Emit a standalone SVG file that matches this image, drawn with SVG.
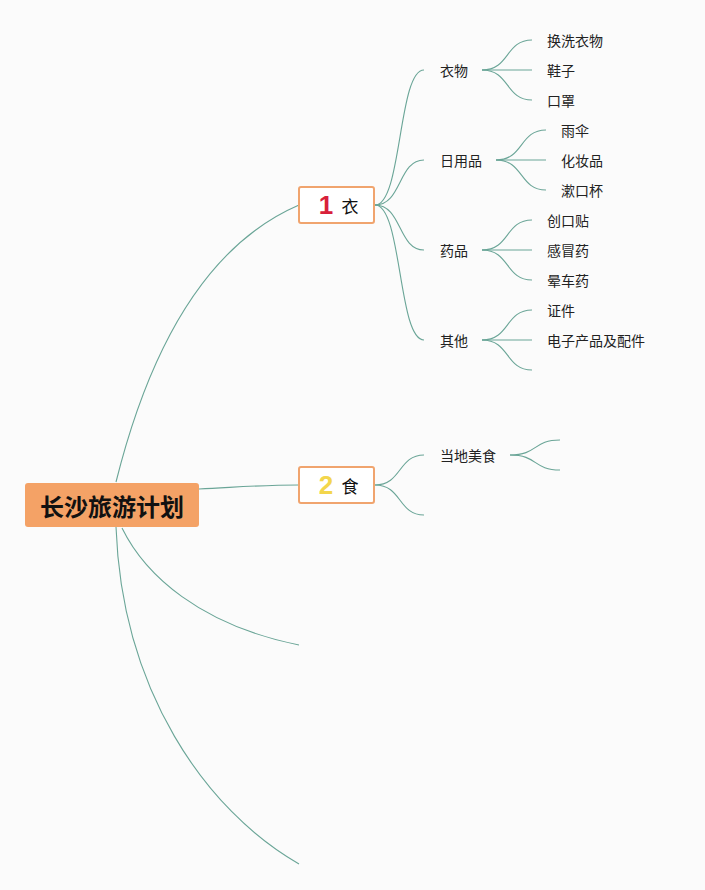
<svg xmlns="http://www.w3.org/2000/svg" width="705" height="890" viewBox="0 0 705 890">
<style>
.c{fill:none;stroke:#6aa597;stroke-width:1.1}
.t{font-family:"Noto Sans CJK SC","Noto Sans",sans-serif;font-size:14px;fill:#222;dominant-baseline:central}
.root{font-family:"Noto Sans CJK SC","Noto Sans",sans-serif;font-size:24px;font-weight:bold;fill:#111;dominant-baseline:central;text-anchor:middle}
.box{fill:#ffffff;stroke:#f0a46e;stroke-width:2}
.num{font-family:"Liberation Sans","Noto Sans",sans-serif;font-size:26px;font-weight:bold;dominant-baseline:central;text-anchor:middle}
.lbl{font-family:"Noto Sans CJK SC","Noto Sans",sans-serif;font-size:17px;fill:#111;dominant-baseline:central;text-anchor:middle}
</style>
<rect width="705" height="890" fill="#fbfbfb"/>
<g id="connectors">
<path class="c" d="M116,482 C146,362 199,248 299,205"/>
<path class="c" d="M199,489 C240,487 260,485 299,485"/>
<path class="c" d="M122,528 C145,575 200,625 299,645"/>
<path class="c" d="M116,527 C122,690 205,810 299,864"/>
<path class="c" d="M375,205 C402,205 398,70 424,70"/>
<path class="c" d="M375,205 C402,205 398,160 424,160"/>
<path class="c" d="M375,205 C402,205 398,250 424,250"/>
<path class="c" d="M375,205 C402,205 398,340 424,340"/>
<path class="c" d="M482,70 C510,70 505,40 532,40"/>
<path class="c" d="M482,70 L532,70"/>
<path class="c" d="M482,70 C510,70 505,100 532,100"/>
<path class="c" d="M496,160 C524,160 519,130 546,130"/>
<path class="c" d="M496,160 L546,160"/>
<path class="c" d="M496,160 C524,160 519,190 546,190"/>
<path class="c" d="M482,250 C510,250 505,220 532,220"/>
<path class="c" d="M482,250 L532,250"/>
<path class="c" d="M482,250 C510,250 505,280 532,280"/>
<path class="c" d="M482,340 C510,340 505,310 532,310"/>
<path class="c" d="M482,340 L532,340"/>
<path class="c" d="M482,340 C510,340 505,370 532,370"/>
<path class="c" d="M375,485 C402,485 398,455 424,455"/>
<path class="c" d="M375,485 C402,485 398,515 424,515"/>
<path class="c" d="M510,455 C538,455 533,440 560,440"/>
<path class="c" d="M510,455 C538,455 533,470 560,470"/>
</g>
<g id="root">
<rect x="25" y="483" width="174" height="44" rx="3" fill="#f4a266"/>
<text class="root" x="112" y="505">长沙旅游计划</text>
</g>
<g id="n1">
<rect class="box" x="299" y="187" width="75" height="36" rx="2"/>
<text class="num" x="326" y="205" fill="#d8203a">1</text>
<text class="lbl" x="350" y="205">衣</text>
</g>
<g id="n2">
<rect class="box" x="299" y="467" width="75" height="36" rx="2"/>
<text class="num" x="326" y="485" fill="#f3d64c">2</text>
<text class="lbl" x="350" y="485">食</text>
</g>
<g id="n1-1"><text class="t" x="440" y="70">衣物</text></g>
<g id="n1-1-1"><text class="t" x="547" y="40">换洗衣物</text></g>
<g id="n1-1-2"><text class="t" x="547" y="70">鞋子</text></g>
<g id="n1-1-3"><text class="t" x="547" y="100">口罩</text></g>
<g id="n1-2"><text class="t" x="440" y="160">日用品</text></g>
<g id="n1-2-1"><text class="t" x="561" y="130">雨伞</text></g>
<g id="n1-2-2"><text class="t" x="561" y="160">化妆品</text></g>
<g id="n1-2-3"><text class="t" x="561" y="190">漱口杯</text></g>
<g id="n1-3"><text class="t" x="440" y="250">药品</text></g>
<g id="n1-3-1"><text class="t" x="547" y="220">创口贴</text></g>
<g id="n1-3-2"><text class="t" x="547" y="250">感冒药</text></g>
<g id="n1-3-3"><text class="t" x="547" y="280">晕车药</text></g>
<g id="n1-4"><text class="t" x="440" y="340">其他</text></g>
<g id="n1-4-1"><text class="t" x="547" y="310">证件</text></g>
<g id="n1-4-2"><text class="t" x="547" y="340">电子产品及配件</text></g>
<g id="n2-1"><text class="t" x="440" y="455">当地美食</text></g>
</svg>
